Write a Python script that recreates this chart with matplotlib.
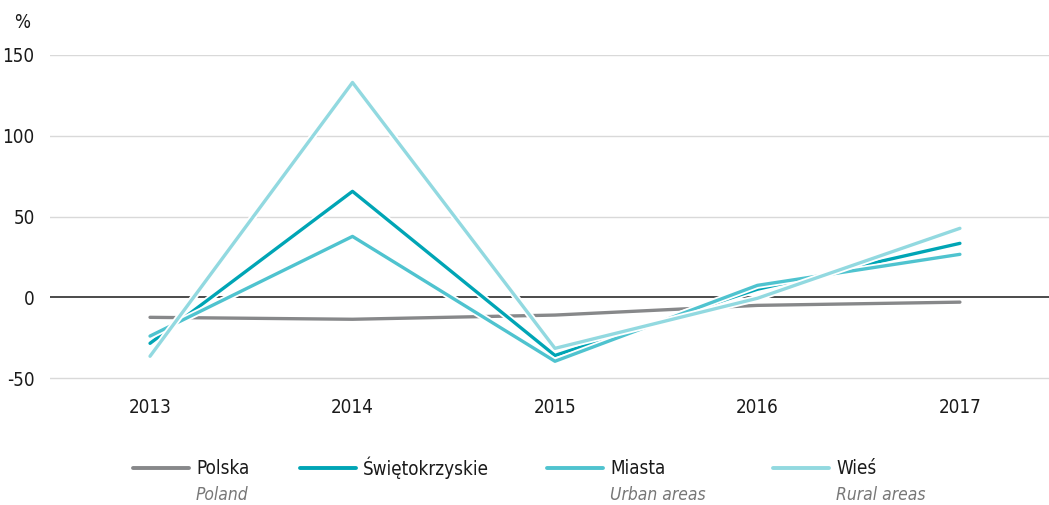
import matplotlib.pyplot as plt
import matplotlib.patheffects as pe
from matplotlib.lines import Line2D
from matplotlib import font_manager

names = {f.name for f in font_manager.fontManager.ttflist}
narrow = [n for n in ["Liberation Sans Narrow", "DejaVu Sans Condensed"] if n in names]
plt.rcParams["font.family"] = narrow + ["DejaVu Sans"]
plt.rcParams["font.stretch"] = "condensed"

years = [2013, 2014, 2015, 2016, 2017]
polska = [-12.4, -13.6, -11.0, -5.0, -3.0]
swietokrzyskie = [-28.5, 65.6, -36.0, 5.0, 33.4]
miasta = [-24.0, 37.7, -39.6, 7.4, 26.6]
wies = [-36.5, 133.0, -31.6, -0.6, 42.7]

series_names = ["Polska", "Świętokrzyskie", "Miasta", "Wieś"]
series_sub = ["Poland", "", "Urban areas", "Rural areas"]
series_colors = ["#87888a", "#00a5b5", "#4fc3cf", "#92d9e0"]
yticks = [-50, 0, 50, 100, 150]

fig = plt.figure(figsize=(10.49, 5.05), dpi=100)
ax = fig.add_axes([50 / 1049, 1 - 380 / 505, 1 - 50 / 1049, (380 - 55) / 505])

for yt in yticks:
    if yt == 0:
        ax.axhline(yt, color="#1a1a1a", lw=1.1, zorder=1)
    else:
        ax.axhline(yt, color="#d9d9d9", lw=1.0, zorder=0)

outline = [pe.Stroke(linewidth=5, foreground="white"), pe.Normal()]
for vals, col in zip([polska, swietokrzyskie, miasta, wies], series_colors):
    ax.plot(years, vals, color=col, lw=2.4, solid_capstyle="round",
            path_effects=outline, zorder=3)

ax.set_xlim(2012.506, 2017.44)
ax.set_ylim(-51.2, 150)
ax.set_yticks(yticks)
ax.set_yticklabels([str(v) for v in yticks])
ax.set_xticks(years)
ax.set_xticklabels([str(y) for y in years])
ax.tick_params(length=0, labelsize=13.5, colors="#1a1a1a")
ax.tick_params(axis="x", pad=13)
ax.tick_params(axis="y", pad=11)
for s in ax.spines.values():
    s.set_visible(False)

fig.text(22 / 1049, 1 - 22 / 505, "%", fontsize=13.5, ha="center", va="center",
         color="#1a1a1a")

# legend
leg_x = [133, 300, 547, 773]
for x0, name, sub, col in zip(leg_x, series_names, series_sub, series_colors):
    fig.add_artist(Line2D([x0 / 1049, (x0 + 56) / 1049], [1 - 468 / 505] * 2,
                          color=col, lw=2.8, solid_capstyle="round"))
    fig.text((x0 + 63) / 1049, 1 - 468 / 505, name, fontsize=13.5,
             ha="left", va="center", color="#1a1a1a")
    if sub:
        fig.text((x0 + 63) / 1049, 1 - 495 / 505, sub, fontsize=12.5,
                 style="italic", ha="left", va="center", color="#777777")

fig.savefig("out.png", dpi=100)
